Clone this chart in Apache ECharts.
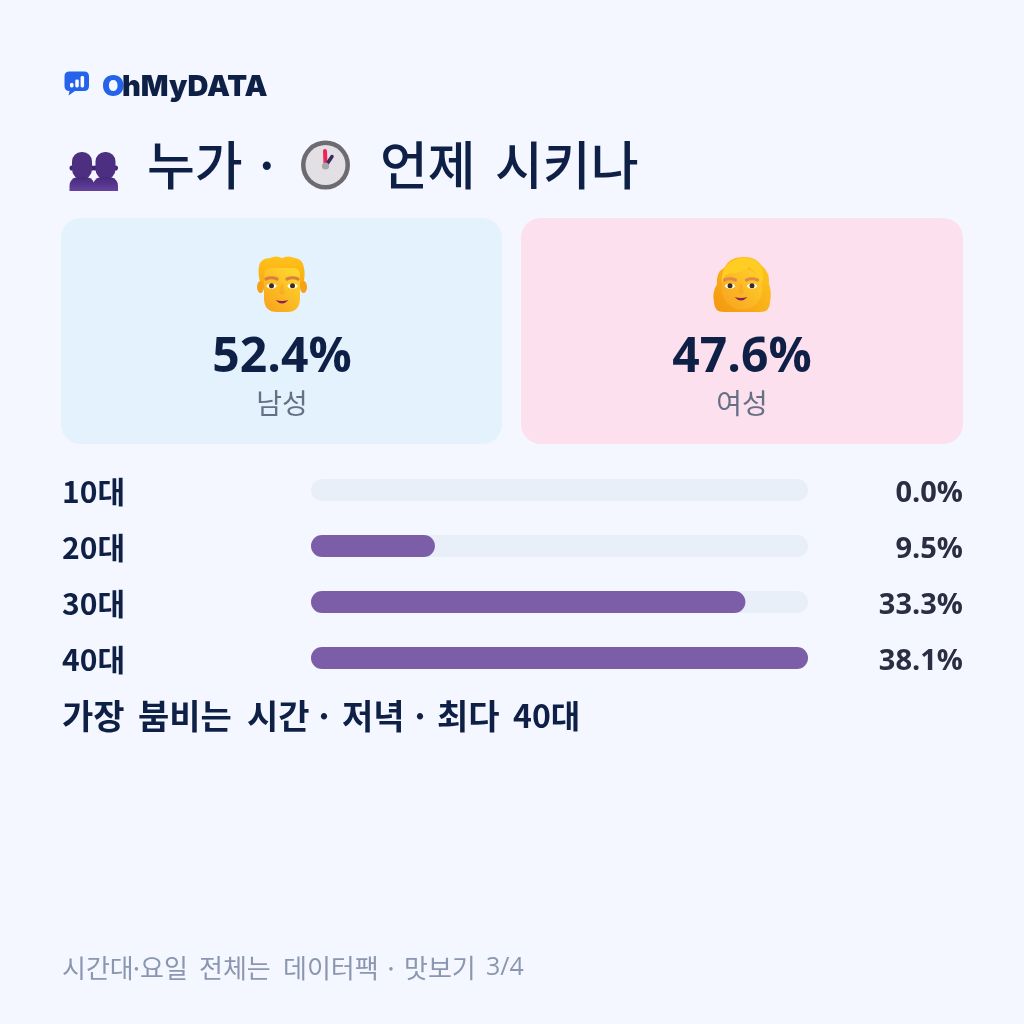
<!DOCTYPE html>
<html>
<head>
<meta charset="utf-8">
<style>html,body{margin:0;padding:0;background:#f4f7ff}#c{width:1024px;height:1024px}</style>
<script src="https://cdn.jsdelivr.net/npm/echarts@6/dist/echarts.min.js"></script>
</head>
<body>
<div id="c"></div>
<script>
const ageGroups = ['10대', '20대', '30대', '40대'];
const ageShares = [0.0, 9.5, 33.3, 38.1];
const genderLabels = ['남성', '여성'];
const genderShares = [52.4, 47.6];
const brandHead = 'O';
const brandTail = 'hMyDATA';
const titleWords = ['누가', '·', '언제', '시키나'];
const peakWords = ['가장', '붐비는', '시간', '·', '저녁', '·', '최다', '40대'];
const footerWords = ['시간대', '·', '요일', '전체는', '데이터팩', '·', '맛보기', '3/4'];

const KR = 'Noto Sans CJK KR, sans-serif';
const LATIN = 'Open Sans, Noto Sans, sans-serif';
const BRAND = 'Inter, Liberation Sans, sans-serif';
const NAVY = '#0f2046';
const PURPLE = '#7b5ea7';
const pct = v => v.toFixed(1) + '%';

const vGrad = (a, b) => ({type: 'linear', x: 0, y: 0, x2: 0, y2: 1, colorStops: [{offset: 0, color: a}, {offset: 1, color: b}]});
const dGrad = (a, b) => ({type: 'linear', x: 1, y: 0, x2: 0, y2: 1, colorStops: [{offset: 0, color: a}, {offset: 1, color: b}]});
const text = (x, y, s, size, fill, weight, align, family) => ({
  type: 'text', x, y,
  style: {text: s, fontSize: size, fontWeight: weight || 'normal', fill, align: align || 'left', verticalAlign: 'middle', fontFamily: family || KR}
});
const rrect = (x, y, w, h, r, fill) => ({type: 'rect', shape: {x, y, width: w, height: h, r}, style: {fill}});
const ell = (cx, cy, rx, ry, fill) => ({type: 'ellipse', shape: {cx, cy, rx, ry}, style: {fill}});
const circ = (cx, cy, r, fill) => ({type: 'circle', shape: {cx, cy, r}, style: {fill}});

// The graphic component only knows registered shapes, so each icon outline gets its own class
let pathCount = 0;
const path = (d, fill, stroke, lw) => {
  const name = 'iconPath' + (pathCount++);
  echarts.graphic.registerShape(name, echarts.graphic.extendPath(d, {}));
  return {type: name, style: {fill: fill || 'none', stroke: stroke || 'none', lineWidth: lw || 1, lineCap: 'round'}};
};

// Word runs are placed one by one so the gaps between them stay wide
const run = (words, xs, y, size, fill, weight) => words.map((w, i) =>
  w === '·' ? text(xs[i], y, w, size, fill, weight, 'center') : text(xs[i], y, w, size, fill, weight));

// Chat-bubble brand mark with three small bars
const brandMark = [
  path('M69.5 71.5H84Q89 71.5 89 76.5V86Q89 91 84 91H75L68.5 95.5L69.5 91Q64.5 91 64.5 86V76.5Q64.5 71.5 69.5 71.5Z', '#2563eb'),
  rrect(70, 83, 3.5, 4.5, 1.4, '#fff'), rrect(75.3, 79.5, 3.5, 8, 1.4, '#fff'), rrect(80.6, 76, 3.5, 11.5, 1.4, '#fff')
];

// Pair of head-and-shoulders silhouettes
const silhouette = cx => [
  ell(cx - 10.5, 168, 2, 2.6, '#3f2670'), ell(cx + 10.5, 168, 2, 2.6, '#3f2670'),
  rrect(cx - 10, 152, 20, 27, 9.5, '#4c2f80'),
  path(`M${cx - 12.5} 191V186Q${cx - 12.5} 179 ${cx - 5} 177H${cx + 5}Q${cx + 12.5} 179 ${cx + 12.5} 186V191Z`, vGrad('#46297a', '#65429f'))
];
const people = [...silhouette(82), ...silhouette(105.5)];

// Clock face
const clock = [
  circ(325.5, 165, 24.5, '#6d6b70'),
  circ(325.5, 165, 20, '#e2e0e4'),
  path('M325.5 165L325 151', 'none', '#f1225a', 4),
  path('M327 164L332 156.5', 'none', '#3a2a5c', 3.5),
  circ(325.5, 166, 3.6, '#a8a6aa')
];

// Shared facial features around a centre point
const features = (cx, browY, eyeY, mouthY, dx, browColor) => [
  path(`M${cx - dx - 5.5} ${browY + 1}Q${cx - dx} ${browY - 1.5} ${cx - dx + 5.5} ${browY + 1}`, 'none', browColor, 3.2),
  path(`M${cx + dx + 5.5} ${browY + 1}Q${cx + dx} ${browY - 1.5} ${cx + dx - 5.5} ${browY + 1}`, 'none', browColor, 3.2),
  ell(cx - dx, eyeY, 5, 2.6, '#fff'), ell(cx + dx, eyeY, 5, 2.6, '#fff'),
  circ(cx - dx, eyeY - 0.3, 2.5, '#3d2a20'), circ(cx + dx, eyeY - 0.3, 2.5, '#3d2a20'),
  path(`M${cx - 1} ${eyeY - 2}L${cx - 3} ${eyeY + 7}Q${cx} ${eyeY + 9.5} ${cx + 3} ${eyeY + 7}L${cx + 1} ${eyeY - 2}Z`, 'rgba(246,160,30,0.45)'),
  path(`M${cx - 6.5} ${mouthY}Q${cx} ${mouthY + 2} ${cx + 6.5} ${mouthY}Q${cx} ${mouthY + 7} ${cx - 6.5} ${mouthY}Z`, '#8d1f5c')
];

const manFace = [
  path('M262 288Q257 274 259 266Q261 258 270 258Q276 255 282 258Q288 255 295 258Q303 259 304 268Q306 276 302 288Z', vGrad('#ffc21c', '#f9a60f')),
  ell(260.5, 287, 3.5, 6, '#f7a114'), ell(303.5, 287, 3.5, 6, '#f7a114'),
  path('M264 275Q264 268 271 268H293Q300 268 300 275V298Q300 312 287 312H277Q264 312 264 298Z', dGrad('#ffdb2e', '#f8a01c')),
  ...features(282, 278, 286, 300, 10.5, '#d8803f')
];

const womanFace = [
  path('M742 257Q756 256 762 266Q770 272 769 284Q772 292 770 302Q770 312 760 312H724Q714 312 714 302Q712 292 717 284Q716 272 724 268Q730 257 742 257Z', dGrad('#ffcb22', '#f3960f')),
  circ(742, 289, 20.5, dGrad('#ffd32a', '#f8a020')),
  path('M722 284Q724 273 733 273Q742 273 749 267Q757 272 762 284Q766 268 756 261Q744 254 732 261Q720 268 722 284Z', '#ffcd24'),
  ...features(741, 279, 286, 297, 11, '#e08a48')
];

// Rows sit in their own grids so the axis labels can hang slightly below the bar centres
const hiddenX = gridIndex => ({type: 'value', gridIndex, min: 0, max: Math.max(...ageShares), show: false});
const rowAxis = {axisLine: {show: false}, axisTick: {show: false}, splitLine: {show: false}};

const option = {
  animation: false,
  backgroundColor: '#f4f7ff',
  grid: [
    {left: 311, top: 462, width: 497, height: 224},
    {left: 311, top: 464, width: 497, height: 224},
    {left: 311, top: 466, width: 497, height: 224}
  ],
  xAxis: [hiddenX(0), hiddenX(1), hiddenX(2)],
  yAxis: [
    {type: 'category', gridIndex: 0, inverse: true, data: ageGroups, ...rowAxis, axisLabel: {show: false}},
    {
      type: 'category', gridIndex: 1, inverse: true, data: ageGroups, ...rowAxis,
      axisLabel: {color: NAVY, fontFamily: KR, fontSize: 30, fontWeight: 700, align: 'left', margin: 249, verticalAlign: 'middle'}
    },
    {
      type: 'category', gridIndex: 2, inverse: true, position: 'right', data: ageShares.map(pct), ...rowAxis,
      axisLabel: {color: '#2b2d42', fontFamily: LATIN, fontSize: 29, fontWeight: 700, align: 'right', margin: 155, verticalAlign: 'middle'}
    }
  ],
  series: [{
    type: 'bar', data: ageShares, barWidth: 22, xAxisIndex: 0, yAxisIndex: 0,
    itemStyle: {color: PURPLE, borderRadius: 11},
    showBackground: true,
    backgroundStyle: {color: '#e9eff8', borderRadius: 11},
    silent: true
  }],
  graphic: {elements: [
    ...brandMark,
    text(102, 87, brandHead, 29, '#2563eb', 900, 'left', BRAND),
    text(122, 87, brandTail, 29, NAVY, 900, 'left', BRAND),
    ...people,
    ...run(titleWords, [147, 267, 380, 495], 165, 52, NAVY, 500),
    ...clock,
    rrect(61, 218, 441, 226, 20, '#e3f2fd'),
    rrect(521, 218, 442, 226, 20, '#fde0ed'),
    ...manFace,
    ...womanFace,
    text(282, 358, pct(genderShares[0]), 48, NAVY, 700, 'center', LATIN),
    text(742, 358, pct(genderShares[1]), 48, NAVY, 700, 'center', LATIN),
    text(282, 403, genderLabels[0], 28, '#667085', 400, 'center'),
    text(742, 403, genderLabels[1], 28, '#667085', 400, 'center'),
    ...run(peakWords.slice(0, 7), [62, 138, 247, 324, 342, 420, 437], 716, 34, NAVY, 700),
    text(513, 716, peakWords[7], 32, NAVY, 700),
    ...run(footerWords.slice(0, 7), [62, 136.5, 140, 199, 283, 391, 404], 968, 26, '#8b97b0', 400),
    text(486, 968, footerWords[7], 25, '#8b97b0', 400, 'left', LATIN)
  ]}
};
echarts.init(document.getElementById('c')).setOption(option);
</script>
</body>
</html>
